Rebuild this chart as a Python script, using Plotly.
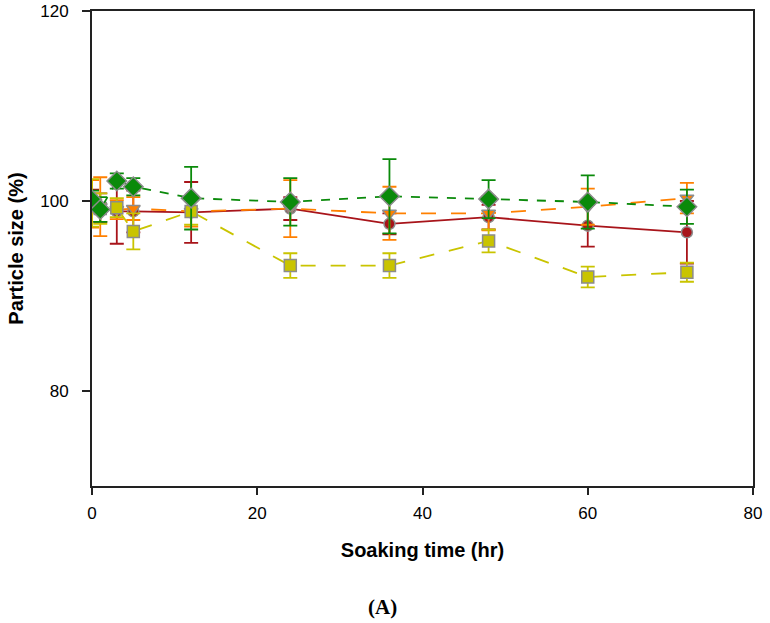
import plotly.graph_objects as go

time_hr = [0, 1, 3, 5, 12, 24, 36, 48, 60, 72]

red_vals = [100.0, 99.3, 98.9, 98.9, 98.8, 99.2, 97.6, 98.3, 97.4, 96.7]
red_err = [1.2, 1.5, 3.4, 2.2, 3.2, 1.2, 1.1, 1.3, 2.2, 3.3]

orange_vals = [99.7, 99.4, 99.1, 99.2, 98.9, 99.2, 98.7, 98.7, 99.4, 100.3]
orange_err = [2.5, 3.1, 1.0, 1.2, 1.6, 3.0, 2.8, 1.8, 1.9, 1.6]

yellow_vals = [99.8, 99.2, 99.3, 96.8, 98.9, 93.2, 93.2, 95.8, 92.0, 92.5]
yellow_err = [2.5, 1.6, 1.0, 1.9, 1.4, 1.3, 1.3, 1.2, 1.1, 1.0]

green_vals = [100.1, 99.1, 102.1, 101.5, 100.3, 99.9, 100.5, 100.2, 99.9, 99.4]
green_err = [1.0, 1.3, 0.8, 0.9, 3.3, 2.5, 3.9, 2.0, 2.8, 1.8]

x_ticks = [0, 20, 40, 60, 80]
y_ticks = [80, 100, 120]

series = [
    ("red", red_vals, red_err, "#A8141A", "circle", 11, "solid"),
    ("orange", orange_vals, orange_err, "#FF8000", "triangle-down", 12, "longdash"),
    ("yellow", yellow_vals, yellow_err, "#C9C400", "square", 12, "longdash"),
    ("green", green_vals, green_err, "#0A8A0A", "diamond", 15, "dash"),
]

fig = go.Figure()
for name, vals, err, color, sym, size, dash in series:
    fig.add_trace(go.Scatter(
        x=time_hr, y=vals, name=name, mode="lines+markers",
        line=dict(color=color, width=1.8, dash=dash),
        marker=dict(symbol=sym, size=size, color=color,
                    line=dict(color="#8C8C8C", width=1.5)),
        error_y=dict(type="data", array=err, visible=True,
                     color=color, thickness=1.8, width=7),
        showlegend=False,
    ))

axis_font = dict(family="Liberation Sans, Arial", size=17, color="#000")
title_font = dict(family="Liberation Sans, Arial", size=20, color="#000")

fig.update_layout(
    width=770, height=623,
    margin=dict(l=92, r=17, t=11, b=137),
    paper_bgcolor="white", plot_bgcolor="white",
    xaxis=dict(
        range=[0, 80], tickvals=x_ticks, ticks="outside", ticklen=7,
        tickwidth=1.5, tickcolor="#222", showline=True, linecolor="#222",
        linewidth=2, mirror=True, showgrid=False, zeroline=False,
        automargin=False,
        tickfont=axis_font, ticklabelstandoff=4,
        title=dict(text="<b>Soaking time (hr)</b>", font=title_font, standoff=21),
    ),
    yaxis=dict(
        range=[70, 120], tickvals=y_ticks, ticks="outside", ticklen=8,
        tickwidth=1.5, tickcolor="#222", showline=True, linecolor="#222",
        linewidth=2, mirror=True, showgrid=False, zeroline=False,
        automargin=False,
        tickfont=axis_font, ticklabelstandoff=10,
        title=dict(text="<b>Particle size (%)</b>", font=title_font, standoff=11),
    ),
    annotations=[dict(
        text="<b>(A)</b>", x=0.439, y=-0.254, xref="paper", yref="paper",
        showarrow=False, xanchor="center", yanchor="middle",
        font=dict(family="Liberation Serif, Times New Roman", size=21, color="#000"),
    )],
)

fig.write_html(
    "out.html",
    config={"displayModeBar": False},
    post_script="document.body.style.margin='0';document.body.style.overflow='hidden';",
)
